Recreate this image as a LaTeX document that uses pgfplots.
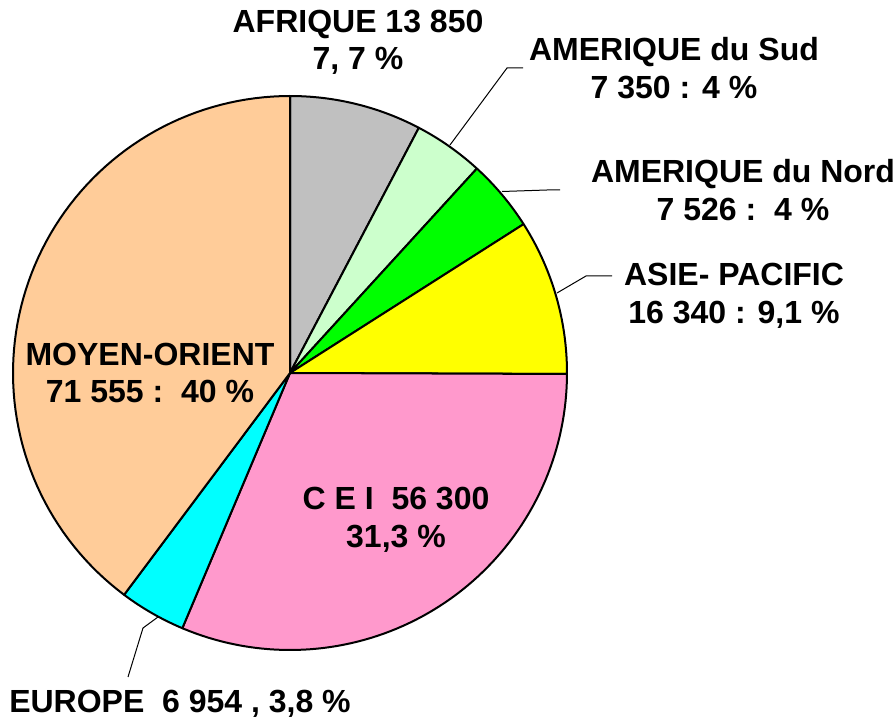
\documentclass[border=0pt]{standalone}
\usepackage{pgfplots}
\pgfplotsset{compat=1.18}
\usepackage{fontspec}
\setmainfont{Liberation Sans}
\definecolor{cAf}{RGB}{192,192,192}
\definecolor{cSud}{RGB}{204,255,204}
\definecolor{cNord}{RGB}{0,255,0}
\definecolor{cAsie}{RGB}{255,255,0}
\definecolor{cCei}{RGB}{255,153,204}
\definecolor{cEur}{RGB}{0,255,255}
\definecolor{cMo}{RGB}{255,204,153}
% values
\def\vAf{13850}
\def\vSud{7350}
\def\vNord{7526}
\def\vAsie{16340}
\def\vCei{56300}
\def\vEur{6954}
\def\vMo{71555}
\edef\tot{\fpeval{\vAf+\vSud+\vNord+\vAsie+\vCei+\vEur+\vMo}}
\edef\aA{90}
\edef\aB{\fpeval{\aA-360*\vAf/\tot}}
\edef\aC{\fpeval{\aB-360*\vSud/\tot}}
\edef\aD{\fpeval{\aC-360*\vNord/\tot}}
\edef\aE{\fpeval{\aD-360*\vAsie/\tot}}
\edef\aF{\fpeval{\aE-360*\vCei/\tot}}
\edef\aG{\fpeval{\aF-360*\vEur/\tot}}
\edef\aH{\fpeval{\aG-360*\vMo/\tot}}
\tikzset{lbl/.style={font=\fontsize{32}{37.5}\selectfont\bfseries,align=center,inner sep=0pt}}
\begin{document}
\begin{tikzpicture}
\begin{axis}[width=895pt,height=721pt,scale only axis,
  xmin=0,xmax=895,ymin=0,ymax=721,hide axis,clip=false]
\pgfplotsset{slice/.style={draw=black,line width=2pt,line join=round,samples=80}}
\addplot[slice,fill=cAf,domain=\aB:\aA] ({290+277*cos(x)},{348+277*sin(x)}) -- (axis cs:290,348) -- cycle;
\addplot[slice,fill=cSud,domain=\aC:\aB] ({290+277*cos(x)},{348+277*sin(x)}) -- (axis cs:290,348) -- cycle;
\addplot[slice,fill=cNord,domain=\aD:\aC] ({290+277*cos(x)},{348+277*sin(x)}) -- (axis cs:290,348) -- cycle;
\addplot[slice,fill=cAsie,domain=\aE:\aD] ({290+277*cos(x)},{348+277*sin(x)}) -- (axis cs:290,348) -- cycle;
\addplot[slice,fill=cCei,domain=\aF:\aE] ({290+277*cos(x)},{348+277*sin(x)}) -- (axis cs:290,348) -- cycle;
\addplot[slice,fill=cEur,domain=\aG:\aF] ({290+277*cos(x)},{348+277*sin(x)}) -- (axis cs:290,348) -- cycle;
\addplot[slice,fill=cMo,domain=\aH:\aG] ({290+277*cos(x)},{348+277*sin(x)}) -- (axis cs:290,348) -- cycle;
% leader lines
\addplot[black,line width=1pt,mark=none] coordinates {(450,576) (507,653) (523,653)};
\addplot[black,line width=1pt,mark=none] coordinates {(502,529.5) (547,531) (560,531)};
\addplot[black,line width=1pt,mark=none] coordinates {(557,428) (586,445) (612,445)};
\addplot[black,line width=1pt,mark=none] coordinates {(158,104) (143,93) (128,44)};
% labels
\node[lbl] at (axis cs:358,678.5) {AFRIQUE 13 850\\7, 7 \%};
\node[lbl] at (axis cs:674,653) {AMERIQUE du Sud\\7 350 : 4 \%};
\node[lbl] at (axis cs:743,531) {AMERIQUE du Nord\\7 526 :\ \ 4 \%};
\node[lbl] at (axis cs:734,425) {ASIE- PACIFIC\\16 340 : 9,1 \%};
\node[lbl] at (axis cs:150,348) {MOYEN-ORIENT\\71 555 :\ \ 40 \%};
\node[lbl] at (axis cs:396,201) {C E I\ \ 56 300\\31,3 \%};
\node[lbl] at (axis cs:180,17) {EUROPE\ \ 6 954 , 3,8 \%};
\end{axis}
\pgfresetboundingbox
\path[use as bounding box] (current axis.south west) rectangle (current axis.north east);
\end{tikzpicture}
\end{document}
